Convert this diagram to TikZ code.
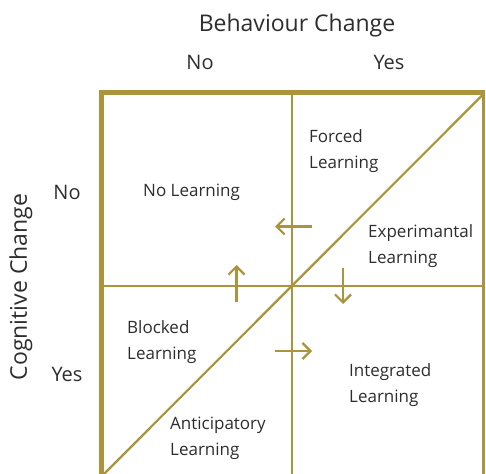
\documentclass[tikz,border=0pt]{standalone}
\usepackage{fontspec}
\setmainfont{Open Sans}
\usetikzlibrary{arrows.meta}
\definecolor{gold}{RGB}{172,148,60}
\definecolor{txt}{RGB}{45,45,45}
\begin{document}
\begin{tikzpicture}[x=1bp,y=-1bp,
  thickline/.style={draw=gold,line width=5bp},
  thinline/.style={draw=gold,line width=2.2bp},
  flowarrow/.style={draw=gold,line width=2.2bp,-{Straight Barb[length=8bp,width=16bp,line width=2.2bp]}},
  celltext/.style={text=txt,font={\fontsize{17bp}{26bp}\selectfont},align=left,anchor=west,inner sep=0pt},
  headtext/.style={text=txt,font={\fontsize{23bp}{27bp}\selectfont},inner sep=0pt},
  sidetext/.style={text=txt,font={\fontsize{20bp}{24bp}\selectfont},inner sep=0pt}]
\useasboundingbox (0,0) rectangle (486,474);
\clip (0,0) rectangle (486,474);
% grid coordinates
\coordinate (tl) at (101.5,93);
\coordinate (tr) at (485,93);
\coordinate (bl) at (101.5,480);
\coordinate (rt) at (483.5,93);
\coordinate (rb) at (483.5,480);
\coordinate (mt) at (292,93);
\coordinate (mb) at (292,480);
\coordinate (ml) at (101.5,286);
\coordinate (mr) at (483.5,286);
\coordinate (dl) at (102,476);
\coordinate (dr) at (484.5,93);
% thin lines
\draw[thinline] (mt) -- (mb);
\draw[thinline] (ml) -- (mr);
\draw[thinline] (rt) -- (rb);
\draw[thinline] (dl) -- (dr);
% thick frame
\draw[thickline] (tr) -- (99,93);
\draw[thickline] (101.5,90.5) -- (bl);
% headers
\node[headtext] (bc) at (297,25.5) {Behaviour Change};
\node[sidetext] (hno) at (200,62.5) {No};
\node[sidetext] (hyes) at (389,62.5) {Yes};
\node[headtext,rotate=90] (cc) at (21,287) {Cognitive Change};
\node[sidetext] (vno) at (67,192.5) {No};
\node[sidetext] (vyes) at (67,374.5) {Yes};
% cell labels
\node[celltext] (nl) at (143,192) {No Learning};
\node[celltext] (fl) at (309,151.5) {Forced\\Learning};
\node[celltext] (el) at (368,246.5) {Experimantal\\Learning};
\node[celltext] (bll) at (127,342.5) {Blocked\\Learning};
\node[celltext] (il) at (349,385.5) {Integrated\\Learning};
\node[celltext] (al) at (170,438) {Anticipatory\\Learning};
% arrows
\coordinate (a1s) at (312,226.5);
\coordinate (a1e) at (275,226.5);
\coordinate (a2s) at (236.5,302);
\coordinate (a2e) at (236.5,265);
\coordinate (a3s) at (343,268);
\coordinate (a3e) at (343,304);
\coordinate (a4s) at (275,351);
\coordinate (a4e) at (312,351);
\draw[flowarrow] (a1s) -- (a1e);
\draw[flowarrow] (a2s) -- (a2e);
\draw[flowarrow] (a3s) -- (a3e);
\draw[flowarrow] (a4s) -- (a4e);
\end{tikzpicture}
\end{document}
